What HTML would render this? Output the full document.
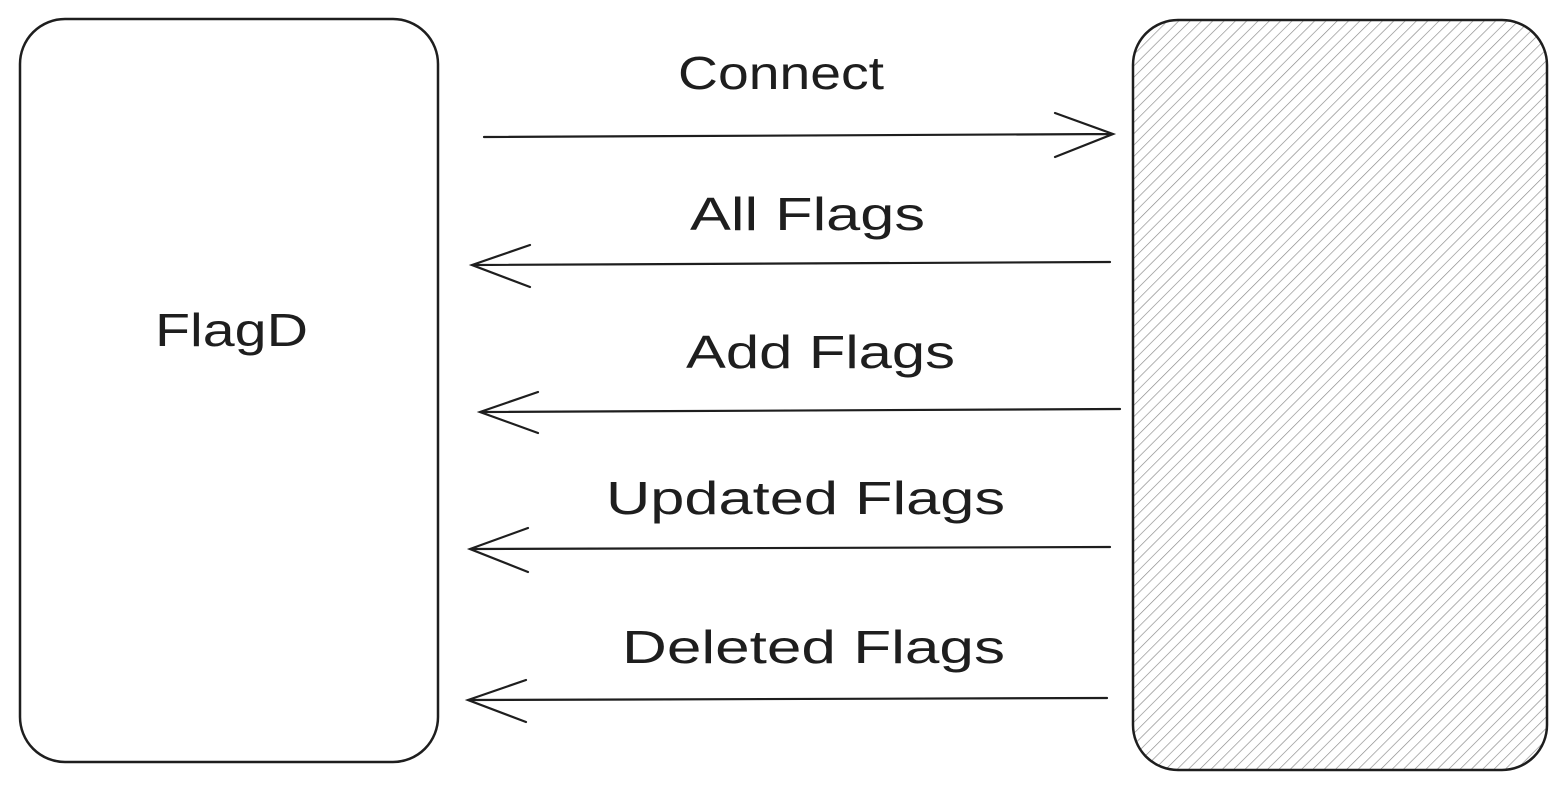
<!DOCTYPE html>
<html><head><meta charset="utf-8"><style>html,body{margin:0;padding:0;background:#fff}</style></head>
<body>
<svg width="1567" height="789" viewBox="0 0 1567 789" xmlns="http://www.w3.org/2000/svg">
<defs>
<pattern id="h" patternUnits="userSpaceOnUse" width="8" height="8" patternTransform="rotate(45)">
<line x1="0" y1="0" x2="0" y2="8" stroke="#888" stroke-width="1.3"/>
</pattern>
</defs>
<rect x="20" y="19" width="418" height="743" rx="45" fill="none" stroke="#1e1e1e" stroke-width="2.5"/>
<rect x="1133" y="20" width="414" height="750" rx="45" fill="url(#h)"/>
<rect x="1133" y="20" width="414" height="750" rx="45" fill="none" stroke="#1e1e1e" stroke-width="2.5"/>
<g stroke="#1e1e1e" stroke-width="2.2" fill="none" stroke-linecap="round">
<path d="M484 137 L1113 134 M1055 113 L1113 134 L1055 157"/>
<path d="M1110 262 L472 265 M530 245 L472 265 L530 287"/>
<path d="M1120 409 L480 412 M538 392 L480 412 L538 433"/>
<path d="M1110 547 L470 549 M528 528 L470 549 L528 572"/>
<path d="M1107 698 L468 700 M526 680 L468 700 L526 722"/>
</g>
<g font-family="Liberation Sans, sans-serif" font-size="46" fill="#1e1e1e">
<text x="678" y="89" textLength="206" lengthAdjust="spacingAndGlyphs">Connect</text>
<text x="690" y="230" textLength="235" lengthAdjust="spacingAndGlyphs">All Flags</text>
<text x="686" y="368" textLength="269" lengthAdjust="spacingAndGlyphs">Add Flags</text>
<text x="606" y="514" textLength="399" lengthAdjust="spacingAndGlyphs">Updated Flags</text>
<text x="622" y="663" textLength="383" lengthAdjust="spacingAndGlyphs">Deleted Flags</text>
<text x="155" y="346" textLength="153" lengthAdjust="spacingAndGlyphs">FlagD</text>
</g>
</svg>
</body></html>
